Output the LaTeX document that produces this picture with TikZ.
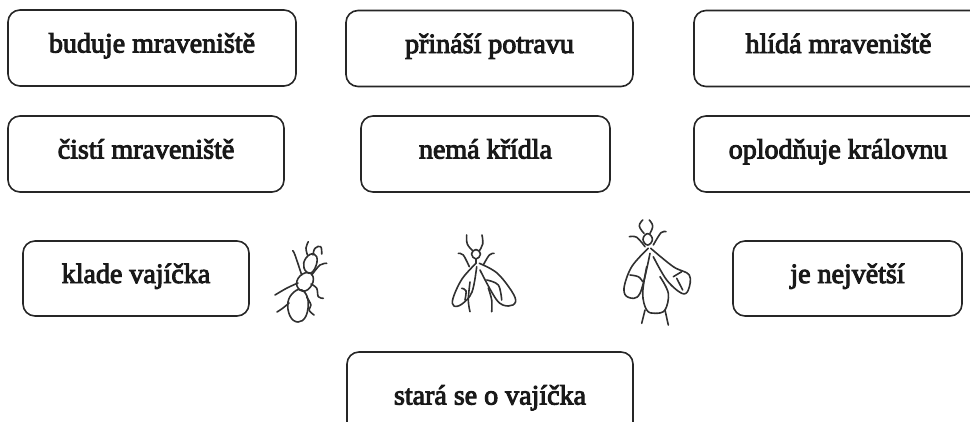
\documentclass[tikz,border=0pt]{standalone}
\usepackage{fontspec}
\setmainfont{Liberation Serif}
% emboldened serif for the card labels
\font\cardfont="Liberation Serif:embolden=3.5" at 28pt
\definecolor{boxline}{HTML}{262626}
\definecolor{inkcol}{HTML}{303030}
\tikzset{
  label box/.style={draw=boxline, line width=1.6pt, rounded corners=12pt,
    inner sep=0pt, text height=10pt, text depth=1pt,
    font=\cardfont, text=black!90},
  ink/.style={draw=inkcol, line width=1.6pt, line cap=round, line join=round},
}
\begin{document}
\begin{tikzpicture}[x=1pt, y=-1pt]
  \useasboundingbox (0,0) rectangle (970,421);
  \clip (0,0) rectangle (970,421);

  % trait cards
  \node[label box, minimum width=288pt, minimum height=76pt] (build)  at (152,48)    {buduje mraveniště};
  \node[label box, minimum width=287pt, minimum height=76pt] (food)   at (489.5,48.5) {přináší potravu};
  \node[label box, minimum width=289pt, minimum height=76pt] (guard)  at (838.5,48.5) {hlídá mraveniště};
  \node[label box, minimum width=276pt, minimum height=76pt] (clean)  at (146,154)   {čistí mraveniště};
  \node[label box, minimum width=249pt, minimum height=76pt] (nowing) at (485.5,154) {nemá křídla};
  \node[label box, minimum width=288pt, minimum height=76pt] (mate)   at (838,154)   {oplodňuje královnu};
  \node[label box, minimum width=226pt, minimum height=75pt] (eggs)   at (136,278.5) {klade vajíčka};
  \node[label box, minimum width=229pt, minimum height=75pt] (big)    at (847.5,278.5) {je největší};
  \node[label box, minimum width=286pt, minimum height=96pt] (care)   at (490,400)   {stará se o vajíčka};

  % worker ant
  \draw[ink] plot[smooth, tension=0.7] coordinates {(307.5,255) (306,248) (308.3,241.7)};
  \draw[ink] plot[smooth, tension=0.7] coordinates {(313,255) (315,248.3) (320.7,246.7) (321.7,254)};
  \draw[ink] plot[smooth cycle, tension=0.8] coordinates {(314,254) (317,262) (311,273) (304,268) (306,258)};
  \draw[ink] plot[smooth cycle, tension=0.8] coordinates {(310,273) (313,282) (305,291) (297,286) (300,276)};
  \draw[ink] plot[smooth cycle, tension=0.7] coordinates {(302,290) (308,300) (306,316) (298,322) (290,316) (288,302) (294,292)};
  \draw[ink] plot[smooth, tension=0.6] coordinates {(301.7,275) (295,255) (292.7,250.7)};
  \draw[ink] plot[smooth, tension=0.6] coordinates {(311.7,275) (320,265) (326.7,263.3)};
  \draw[ink] plot[smooth, tension=0.6] coordinates {(298,283) (287,288) (275,295)};
  \draw[ink] plot[smooth, tension=0.6] coordinates {(311,284) (316.7,288.3) (318.3,296.7) (323.3,298.3)};
  \draw[ink] plot[smooth, tension=0.6] coordinates {(289,303) (283,308) (277,312)};
  \draw[ink] plot[smooth, tension=0.6] coordinates {(306.7,297) (311,305) (309,310) (314,315)};

  % winged male
  \draw[ink] plot[smooth, tension=0.7] coordinates {(472.7,250.7) (467.3,244) (466.7,235)};
  \draw[ink] plot[smooth, tension=0.7] coordinates {(479.3,250.7) (482.7,244) (482,235)};
  \draw[ink] plot[smooth cycle, tension=0.8] coordinates {(476,249.5) (480.5,254) (476,259) (471.5,254)};
  \draw[ink] plot[smooth, tension=0.6] coordinates {(469.3,266.7) (463.3,255) (458.3,253.3)};
  \draw[ink] plot[smooth, tension=0.6] coordinates {(483.3,265) (489.3,255) (494,253.3)};
  \draw[ink] (476,259) -- (476,263.3);
  \draw[ink] plot[smooth, tension=0.6] coordinates {(476,263.3) (462,279) (453,298.3) (454,306) (462,304) (472,292) (476.7,266.7)};
  \draw[ink] plot[smooth, tension=0.6] coordinates {(479.3,263.3) (497,273) (512,291.7) (515.5,302) (508.3,306) (496.7,300) (480,270)};
  \draw[ink] plot[smooth, tension=0.6] coordinates {(470,282) (468.3,300) (470,311.7)};
  \draw[ink] plot[smooth, tension=0.6] coordinates {(488.3,288) (491.7,300) (491.7,311.7)};
  \draw[ink] plot[smooth, tension=0.6] coordinates {(461.7,288.3) (466,290.7) (465,300)};
  \draw[ink] plot[smooth, tension=0.6] coordinates {(486.7,280) (498.3,285) (501.7,300)};

  % winged queen
  \draw[ink] plot[smooth, tension=0.7] coordinates {(644,233.3) (639.3,226) (642.7,220)};
  \draw[ink] plot[smooth, tension=0.7] coordinates {(650,233.3) (652.7,226) (649.3,220)};
  \draw[ink] plot[smooth cycle, tension=0.8] coordinates {(647.7,233.6) (652.4,239.3) (647.7,245) (643,239.3)};
  \draw[ink] plot[smooth, tension=0.6] coordinates {(645,246.7) (636.7,237.3) (629.3,236.7)};
  \draw[ink] plot[smooth, tension=0.6] coordinates {(653.3,245) (661,232.7) (666,231.7)};
  \draw[ink] plot[smooth, tension=0.6] coordinates {(648.3,248.3) (631.7,266.7) (624,288.3) (628.3,297.3) (640,293.3) (650,253.3)};
  \draw[ink] plot[smooth, tension=0.6] coordinates {(630,275) (638.3,276.7) (642.7,281.7)};
  \draw[ink] plot[smooth, tension=0.6] coordinates {(650.7,248.3) (673.3,266.7) (689.3,275) (688.3,290) (681.7,293.3) (666.7,280) (653.3,256.7)};
  \draw[ink] plot[smooth, tension=0.6] coordinates {(673.3,276.7) (681.7,271.7)};
  \draw[ink] plot[smooth, tension=0.6] coordinates {(676.7,278.3) (682.7,290)};
  \draw[ink] plot[smooth, tension=0.6] coordinates {(646.7,266.7) (642.7,293.3) (646.7,310) (655,313.3) (665,310) (668.3,293.3) (660,276.7)};
  \draw[ink] plot[smooth, tension=0.6] coordinates {(645,310) (641.7,323.3)};
  \draw[ink] plot[smooth, tension=0.6] coordinates {(665,310) (668.3,325)};
\end{tikzpicture}
\end{document}
